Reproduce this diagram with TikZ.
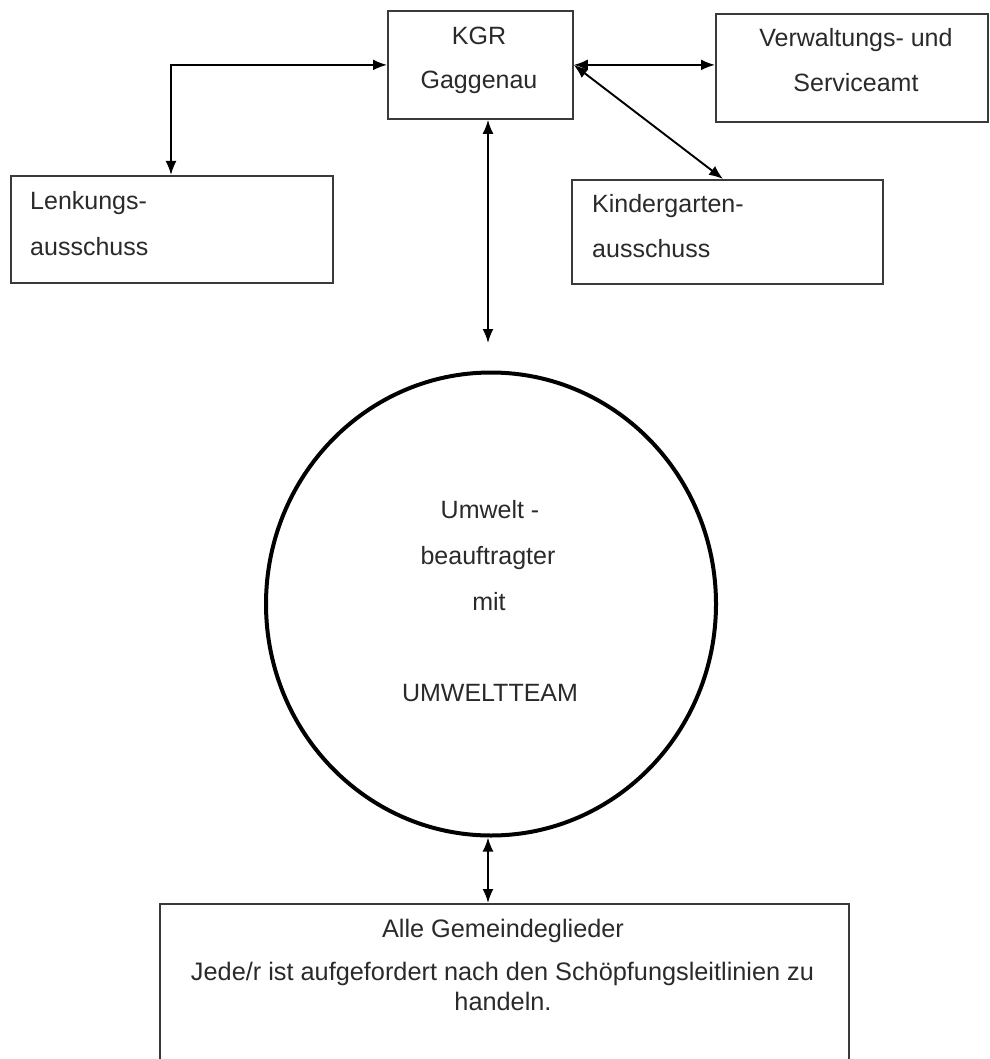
\documentclass[tikz,border=0pt]{standalone}
\usepackage{fontspec}
\setmainfont{Liberation Sans}
\usetikzlibrary{arrows.meta,shapes.geometric}
\definecolor{ink}{HTML}{2A2A2A}
\definecolor{boxline}{HTML}{3A3A3A}
\tikzset{
  boxnode/.style={draw=boxline,line width=1.8pt,rectangle,inner sep=0pt,anchor=north west},
  lbl/.style={anchor=base,inner sep=0pt,text=ink,font=\fontsize{25}{30}\selectfont},
  lbll/.style={lbl,anchor=base west},
  lbls/.style={lbl,font=\fontsize{25.3}{30}\selectfont},
  conn/.style={line width=1.9pt,black,{Latex[length=14pt,width=11pt]}-{Latex[length=14pt,width=11pt]}}
}
\begin{document}
\begin{tikzpicture}[x=1pt,y=-1pt]
\useasboundingbox (0,0) rectangle (989,1059);
\fill[white] (0,0) rectangle (989,1059);
\clip (0,0) rectangle (989,1059);
% boxes
\node[boxnode,minimum width=185pt,minimum height=108pt] (kgr) at (387,10) {};
\node[boxnode,minimum width=272pt,minimum height=108pt] (verw) at (715,13) {};
\node[boxnode,minimum width=311pt,minimum height=104pt] (kind) at (571,179) {};
\node[boxnode,minimum width=322pt,minimum height=107pt] (lenk) at (10,175) {};
\node[boxnode,minimum width=689pt,minimum height=180pt] (alle) at (159,903) {};
\node[draw=black,line width=4pt,ellipse,inner sep=0pt,minimum width=450pt,minimum height=463pt] (circ) at (491,604) {};
% texts
\node[lbl] (t1) at (479,45) {KGR};
\node[lbl] (t2) at (479,89) {Gaggenau};
\node[lbl] (t3) at (856,47) {Verwaltungs- und};
\node[lbl] (t4) at (856,92) {Serviceamt};
\node[lbll] (t5) at (592,213) {Kindergarten-};
\node[lbll] (t6) at (592,257) {ausschuss};
\node[lbll] (t7) at (30,210) {Lenkungs-};
\node[lbll] (t8) at (30,255) {ausschuss};
\node[lbl] (t9) at (490,518) {Umwelt -};
\node[lbl] (t10) at (488,564) {beauftragter};
\node[lbl] (t11) at (489,610) {mit};
\node[lbl] (t12) at (490,701) {UMWELTTEAM};
\node[lbls] (t13) at (503,937) {Alle Gemeindeglieder};
\node[lbls] (t14) at (502.5,980) {Jede/r ist aufgefordert nach den Schöpfungsleitlinien zu};
\node[lbls] (t15) at (503,1010) {handeln.};
% connectors
\coordinate (lkt) at (171,175);
\coordinate (kdt) at (723,179);
\coordinate (vend) at (488,343);
\coordinate (abt) at (488,903);
\draw[conn] (kgr.west) -| (lkt);
\draw[conn] (kgr.east) -- (kgr.east -| verw.west);
\draw[conn] (kgr.east) -- (kdt);
\draw[conn] (kgr.south -| vend) -- (vend);
\draw[conn] (circ.south -| abt) -- (abt);
\end{tikzpicture}
\end{document}
